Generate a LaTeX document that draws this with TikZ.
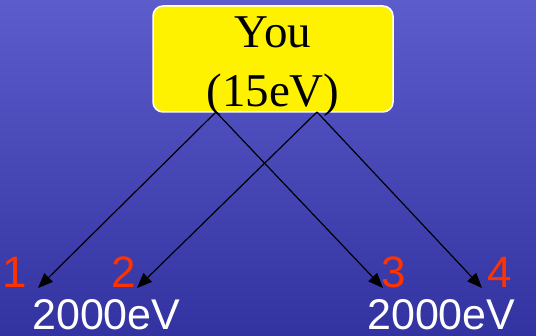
\documentclass[tikz,border=0pt]{standalone}
\usepackage{fontspec}
\setmainfont{Liberation Serif}
\setsansfont{Liberation Sans}
\usetikzlibrary{arrows.meta, positioning}
\definecolor{bg_top}{RGB}{92,92,204}
\definecolor{bg_bot}{RGB}{50,50,160}
\definecolor{num_red}{RGB}{255,51,0}
\tikzset{
  you_box/.style={rectangle, draw=white, line width=1.5pt, fill=yellow, rounded corners=10pt, minimum width=240pt, minimum height=106pt},
  you_text/.style={align=center, inner sep=0pt, anchor=base, font=\fontsize{47}{59}\selectfont},
  num_label/.style={inner sep=0pt, anchor=base west, text=num_red, font=\sffamily\fontsize{44}{50}\selectfont},
  energy_label/.style={inner sep=0pt, anchor=base west, text=white, font=\sffamily\fontsize{43}{50}\selectfont},
  arrow/.style={-{Triangle[length=15pt, width=12pt]}, line width=1.2pt, black}
}
\begin{document}
\begin{tikzpicture}[x=1pt, y=-1pt]
  \useasboundingbox (0,0) rectangle (536,336);
  \shade[top color=bg_top, bottom color=bg_bot] (0,0) rectangle (536,336);

  \node[you_box] (box) at (273,59) {};
  % base of a two-line node is the last line
  \node[you_text] (you) at (273,107) {You\\(15eV)};

  \coordinate (src_a) at (216,112);
  \coordinate (src_b) at (317,112);
  \coordinate (dst_1) at (38,288);
  \coordinate (dst_2) at (137,288);
  \coordinate (dst_3) at (383,288);
  \coordinate (dst_4) at (482,288);

  \node[num_label] (num_1) at (2,288) {1};
  \node[num_label] (num_2) at (111,288) {2};
  \node[num_label] (num_3) at (381,288) {3};
  \node[num_label] (num_4) at (487,288) {4};

  \node[energy_label] (energy_l) at (32,330) {2000eV};
  \node[energy_label] (energy_r) at (367,330) {2000eV};

  \draw[arrow] (src_a) -- (dst_1);
  \draw[arrow] (src_a) -- (dst_3);
  \draw[arrow] (src_b) -- (dst_2);
  \draw[arrow] (src_b) -- (dst_4);
\end{tikzpicture}
\end{document}
